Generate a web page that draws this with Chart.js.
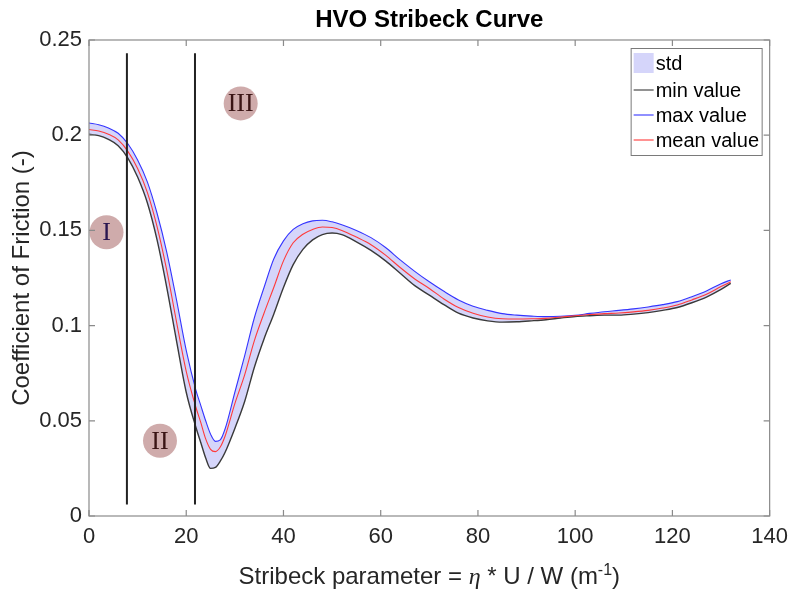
<!DOCTYPE html>
<html>
<head>
<meta charset="utf-8">
<title>HVO Stribeck Curve</title>
<script src="https://cdn.jsdelivr.net/npm/chart.js@4.4.1/dist/chart.umd.min.js"></script>
<style>
  html, body { margin: 0; padding: 0; background: #ffffff; }
  #wrap { width: 796px; height: 595px; }
</style>
</head>
<body>
<div id="wrap"><canvas id="stribeck" width="796" height="595"></canvas></div>
<script>
// Stribeck parameter (x) and coefficient of friction statistics
const stribeck = [0, 2, 4, 6, 8, 10, 12, 14, 16, 18, 20, 22, 23, 24, 25, 26, 27, 28, 30, 32, 34, 36, 38, 40, 42, 44, 46, 48, 50, 52, 55, 58, 61, 64, 67, 70, 73, 76, 79, 82, 85, 88, 91, 94, 97, 100, 103, 106, 109, 112, 115, 118, 121, 124, 127, 130, 132];
const cofMean = [0.2030, 0.2022, 0.2005, 0.1975, 0.1915, 0.1825, 0.1700, 0.1520, 0.1290, 0.1020, 0.0760, 0.0570, 0.0490, 0.0405, 0.0350, 0.0338, 0.0362, 0.0420, 0.0590, 0.0740, 0.0920, 0.1065, 0.1200, 0.1340, 0.1435, 0.1480, 0.1505, 0.1518, 0.1515, 0.1500, 0.1465, 0.1425, 0.1370, 0.1305, 0.1245, 0.1195, 0.1140, 0.1095, 0.1065, 0.1045, 0.1036, 0.1035, 0.1036, 0.1038, 0.1045, 0.1052, 0.1058, 0.1063, 0.1066, 0.1072, 0.1080, 0.1092, 0.1108, 0.1135, 0.1165, 0.1205, 0.1230];
const cofMax = [0.2064, 0.2055, 0.2038, 0.2010, 0.1955, 0.1870, 0.1755, 0.1590, 0.1385, 0.1135, 0.0870, 0.0660, 0.0580, 0.0500, 0.0430, 0.0392, 0.0400, 0.0458, 0.0650, 0.0840, 0.1040, 0.1200, 0.1350, 0.1445, 0.1505, 0.1535, 0.1550, 0.1553, 0.1545, 0.1530, 0.1500, 0.1462, 0.1410, 0.1345, 0.1285, 0.1230, 0.1180, 0.1135, 0.1102, 0.1080, 0.1063, 0.1055, 0.1050, 0.1047, 0.1049, 0.1054, 0.1064, 0.1073, 0.1080, 0.1088, 0.1098, 0.1110, 0.1126, 0.1152, 0.1182, 0.1220, 0.1240];
const cofMin = [0.2005, 0.1998, 0.1978, 0.1945, 0.1880, 0.1780, 0.1645, 0.1450, 0.1200, 0.0920, 0.0650, 0.0465, 0.0385, 0.0305, 0.0250, 0.0255, 0.0288, 0.0335, 0.0460, 0.0600, 0.0780, 0.0930, 0.1060, 0.1200, 0.1320, 0.1400, 0.1450, 0.1478, 0.1486, 0.1478, 0.1440, 0.1395, 0.1340, 0.1275, 0.1210, 0.1160, 0.1110, 0.1065, 0.1040, 0.1025, 0.1018, 0.1020, 0.1025, 0.1031, 0.1040, 0.1048, 0.1052, 0.1055, 0.1055, 0.1060, 0.1068, 0.1080, 0.1095, 0.1120, 0.1150, 0.1190, 0.1222];

// Lubrication regime boundaries and their labels
const regimeBoundaryX = [7.8, 21.8];
const regimeBoundarySpan = [0.006, 0.243];
const regimeNames = ['I', 'II', 'III'];
const regimeNameX = [3.6, 14.6, 31.2];
const regimeNameY = [0.149, 0.0395, 0.2167];

// Axis ticks
const xTickValues = [0, 20, 40, 60, 80, 100, 120, 140];
const xTickLabels = ['0', '20', '40', '60', '80', '100', '120', '140'];
const yTickValues = [0, 0.05, 0.1, 0.15, 0.2, 0.25];
const yTickLabels = ['0', '0.05', '0.1', '0.15', '0.2', '0.25'];

const legendLabels = ['std', 'min value', 'max value', 'mean value'];

const SANS = '"Liberation Sans", Arial, Helvetica, sans-serif';
const SERIF = '"Liberation Serif", "Times New Roman", serif';
const INK = '#262626';
const BAND = '#d5d5fa';
const COL_MIN = '#3a3a3a';
const COL_MAX = '#3535ff';
const COL_MEAN = '#ff3a3a';

const pts = ys => stribeck.map((x, i) => ({ x: x, y: ys[i] }));
const vline = x => regimeBoundarySpan.map(y => ({ x: x, y: y }));

const curveStyle = { pointRadius: 0, borderWidth: 1.1, cubicInterpolationMode: 'monotone', tension: 0.4 };

// Draws boxed axes with inward ticks, the title, the x-axis label, region markers and the legend
const decorations = {
  id: 'decorations',
  afterDatasetsDraw(chart) {
    const { ctx, scales: { x, y } } = chart;
    ctx.save();
    regimeNames.forEach((name, i) => {
      const cx = x.getPixelForValue(regimeNameX[i]);
      const cy = y.getPixelForValue(regimeNameY[i]);
      ctx.beginPath();
      ctx.arc(cx, cy, 17, 0, Math.PI * 2);
      ctx.fillStyle = 'rgba(178, 120, 120, 0.62)';
      ctx.fill();
      ctx.fillStyle = i === 0 ? '#2a1650' : '#3a1414';
      ctx.font = '26px ' + SERIF;
      ctx.textAlign = 'center';
      ctx.textBaseline = 'middle';
      ctx.fillText(name, cx, cy + 1);
    });
    ctx.restore();
  },
  afterDraw(chart) {
    const { ctx, chartArea: a, scales: { x, y } } = chart;
    ctx.save();
    // axes box
    ctx.strokeStyle = '#8a8a8a';
    ctx.lineWidth = 1.2;
    ctx.strokeRect(a.left, a.top, a.right - a.left, a.bottom - a.top);
    // inward ticks on all four sides
    const tl = 6;
    ctx.beginPath();
    xTickValues.forEach(v => {
      const px = x.getPixelForValue(v);
      ctx.moveTo(px, a.bottom); ctx.lineTo(px, a.bottom - tl);
      ctx.moveTo(px, a.top); ctx.lineTo(px, a.top + tl);
    });
    yTickValues.forEach(v => {
      const py = y.getPixelForValue(v);
      ctx.moveTo(a.left, py); ctx.lineTo(a.left + tl, py);
      ctx.moveTo(a.right, py); ctx.lineTo(a.right - tl, py);
    });
    ctx.stroke();

    // title
    const midX = (a.left + a.right) / 2;
    ctx.fillStyle = '#000';
    ctx.font = 'bold 24px ' + SANS;
    ctx.textAlign = 'center';
    ctx.textBaseline = 'middle';
    ctx.fillText('HVO Stribeck Curve', midX, 20);

    // x-axis label with italic eta and superscript exponent
    const parts = [
      { t: 'Stribeck parameter = ', f: '24px ' + SANS, dy: 0 },
      { t: 'η', f: 'italic 24px ' + SERIF, dy: 0 },
      { t: ' * U / W (m', f: '24px ' + SANS, dy: 0 },
      { t: '-1', f: '16px ' + SANS, dy: -9 },
      { t: ')', f: '24px ' + SANS, dy: 0 }
    ];
    let total = 0;
    parts.forEach(p => { ctx.font = p.f; p.w = ctx.measureText(p.t).width; total += p.w; });
    let cx = midX - total / 2;
    ctx.textAlign = 'left';
    ctx.textBaseline = 'alphabetic';
    ctx.fillStyle = INK;
    const base = 584;
    parts.forEach(p => { ctx.font = p.f; ctx.fillText(p.t, cx, base + p.dy); cx += p.w; });

    // legend
    const bw = 131, bh = 107;
    const bl = a.right - bw - 8, bt = a.top + 8;
    ctx.fillStyle = '#ffffff';
    ctx.fillRect(bl, bt, bw, bh);
    ctx.strokeStyle = '#7a7a7a';
    ctx.lineWidth = 1;
    ctx.strokeRect(bl + 0.5, bt + 0.5, bw, bh);
    const rows = [15, 42, 67, 92];
    const lineCols = [null, COL_MIN, COL_MAX, COL_MEAN];
    ctx.font = '20px ' + SANS;
    ctx.textBaseline = 'middle';
    legendLabels.forEach((lab, i) => {
      const ry = bt + rows[i];
      if (i === 0) {
        ctx.fillStyle = BAND;
        ctx.fillRect(bl + 3, ry - 10, 20, 20);
      } else {
        ctx.strokeStyle = lineCols[i];
        ctx.lineWidth = 1.1;
        ctx.beginPath();
        ctx.moveTo(bl + 3, ry); ctx.lineTo(bl + 23, ry);
        ctx.stroke();
      }
      ctx.fillStyle = '#000';
      ctx.fillText(lab, bl + 25, ry + 1);
    });
    ctx.restore();
  }
};

new Chart(document.getElementById('stribeck'), {
  type: 'line',
  data: {
    datasets: [
      { label: 'boundary-1', data: vline(regimeBoundaryX[0]), borderColor: '#222', borderWidth: 2, pointRadius: 0, fill: false },
      { label: 'boundary-2', data: vline(regimeBoundaryX[1]), borderColor: '#222', borderWidth: 2, pointRadius: 0, fill: false },
      Object.assign({ label: legendLabels[3], data: pts(cofMean), borderColor: COL_MEAN, fill: false }, curveStyle),
      Object.assign({ label: legendLabels[1], data: pts(cofMin), borderColor: COL_MIN, fill: false }, curveStyle, { borderWidth: 1.4 }),
      Object.assign({ label: legendLabels[2], data: pts(cofMax), borderColor: COL_MAX, backgroundColor: BAND, fill: 3 }, curveStyle)
    ]
  },
  options: {
    responsive: false,
    devicePixelRatio: 1,
    animation: false,
    layout: { padding: { left: 0, right: 25, top: 40, bottom: 0 } },
    plugins: {
      legend: { display: false },
      title: { display: false },
      tooltip: { enabled: false }
    },
    scales: {
      x: {
        type: 'linear',
        min: 0, max: 140,
        afterBuildTicks: s => { s.ticks = xTickValues.map(v => ({ value: v })); },
        afterFit: s => { s.height = 79; },
        grid: { display: false, drawTicks: false },
        border: { display: false },
        ticks: {
          padding: 8,
          color: INK,
          font: { family: SANS, size: 22 },
          maxRotation: 0,
          callback: (v, i) => xTickLabels[i]
        }
      },
      y: {
        type: 'linear',
        min: 0, max: 0.25,
        afterBuildTicks: s => { s.ticks = yTickValues.map(v => ({ value: v })); },
        afterFit: s => { s.width = 89; },
        grid: { display: false, drawTicks: false },
        border: { display: false },
        ticks: {
          padding: 7,
          color: INK,
          font: { family: SANS, size: 22 },
          callback: (v, i) => yTickLabels[i]
        },
        title: {
          display: true,
          text: 'Coefficient of Friction (-)',
          color: INK,
          font: { family: SANS, size: 24 },
          padding: { top: 8, bottom: 0 }
        }
      }
    }
  },
  plugins: [decorations]
});
</script>
</body>
</html>
